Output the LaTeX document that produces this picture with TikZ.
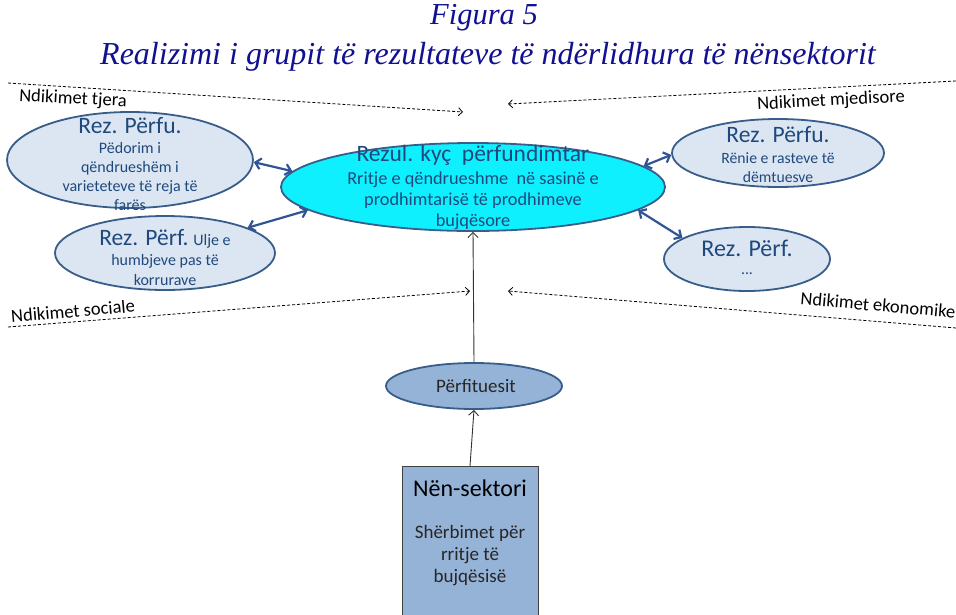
\documentclass[tikz,border=0pt]{standalone}
\usepackage{fontspec}
\setmainfont{Liberation Serif}
\newfontfamily\calfont{Carlito}
\usetikzlibrary{shapes.geometric,arrows.meta}
\definecolor{titleblue}{HTML}{101090}
\definecolor{lightfill}{HTML}{DCE6F2}
\definecolor{edgeblue}{HTML}{385D8A}
\definecolor{cyanfill}{HTML}{0FF0FF}
\definecolor{midblue}{HTML}{95B3D7}
\definecolor{txtblue}{HTML}{1F497D}
\definecolor{arrblue}{HTML}{2F5597}
\tikzset{
  ell/.style={ellipse, draw=edgeblue, line width=1.8pt, inner sep=0pt},
  inell/.style={align=center, text=txtblue, inner sep=0pt},
  dashl/.style={densely dashed, line width=0.8pt, -{Straight Barb[length=4pt,width=8pt]}},
  dbl/.style={arrblue, line width=2.2pt, {Straight Barb[length=5.5pt,width=11pt]}-{Straight Barb[length=5.5pt,width=11pt]}},
  thinarr/.style={line width=0.9pt, black!80, -{Straight Barb[length=5pt,width=10pt]}},
  lbl/.style={font=\calfont\fontsize{18.5}{20}\selectfont, inner sep=0pt},
  ttl/.style={font=\itshape\fontsize{32}{34}\selectfont, text=titleblue, inner sep=0pt}
}
\newcommand{\bigtxt}{\fontsize{23.5}{25}\selectfont}
\begin{document}
\begin{tikzpicture}[x=1pt,y=-1pt]
\useasboundingbox (0,0) rectangle (956,614);
% title
\node[ttl, font=\itshape\fontsize{30.5}{34}\selectfont] (t1) at (484,18) {Figura 5};
\node[ttl] (t2) at (488,57) {Realizimi i grupit të rezultateve të ndërlidhura të nënsektorit};
% dashed influence lines
\coordinate (tlS) at (8,83);   \coordinate (tlE) at (463,112);
\coordinate (trS) at (956,81); \coordinate (trE) at (508,104);
\coordinate (blS) at (8,327);  \coordinate (blE) at (470,291);
\coordinate (brS) at (956,328);\coordinate (brE) at (508,291);
\draw[dashl] (tlS) -- (tlE);
\draw[dashl] (trS) -- (trE);
\draw[dashl] (blS) -- (blE);
\draw[dashl] (brS) -- (brE);
\node[lbl, rotate=-3] (ltj) at (73,99) {Ndikimet tjera};
\node[lbl, rotate=3] (lmj) at (831,101) {Ndikimet mjedisore};
\node[lbl, rotate=5] (lso) at (73,311) {Ndikimet sociale};
\node[lbl, rotate=-5] (lek) at (878,305) {Ndikimet ekonomike};
% ellipses
\node[ell, fill=lightfill, minimum width=246, minimum height=96] (e1) at (130,160) {};
\node[ell, fill=lightfill, minimum width=220, minimum height=74] (e2) at (165,253) {};
\node[ell, fill=cyanfill, minimum width=384, minimum height=88] (ec) at (473,187) {};
\node[ell, fill=lightfill, minimum width=212, minimum height=68] (e3) at (778,153) {};
\node[ell, fill=lightfill, minimum width=166, minimum height=64] (e4) at (747,259) {};
\node[ell, fill=midblue, minimum width=176, minimum height=46] (ep) at (474,386) {};
\node[draw=black!75, line width=1pt, fill=midblue, minimum width=136, minimum height=160, anchor=north, inner sep=0pt] (box) at (470,466) {};
% texts
\node[inell, font=\calfont\bigtxt] (te1a) at (130,126) {Rez. Përfu.};
\node[inell, font=\calfont\fontsize{16}{19}\selectfont] (te1b) at (130,176) {Pëdorim i\\ qëndrueshëm i\\ varieteteve të reja të\\ farës};
\node[inell, font=\calfont\fontsize{16}{20}\selectfont] (te2) at (165,257) {{\bigtxt Rez. Përf.} Ulje e\\ humbjeve pas të\\ korrurave};
\node[inell, font=\calfont\bigtxt] (teca) at (473,155) {Rezul. kyç\ \ përfundimtar};
\node[inell, font=\calfont\fontsize{18.3}{21}\selectfont] (tecb) at (473,201) {Rritje e qëndrueshme\ \ në sasinë e\\ prodhimtarisë të prodhimeve\\ bujqësore};
\node[inell, font=\calfont\bigtxt] (te3a) at (778,135) {Rez. Përfu.};
\node[inell, font=\calfont\fontsize{15.7}{19}\selectfont] (te3b) at (778,168) {Rënie e rasteve të\\ dëmtuesve};
\node[inell, font=\calfont\fontsize{24}{26}\selectfont] (te4a) at (747,248) {Rez. Përf.};
\node[inell, font=\calfont\fontsize{15.7}{19}\selectfont] (te4b) at (747,274) {...};
\node[inell, text=black!85, font=\calfont\fontsize{19}{21}\selectfont] (tp) at (476,386) {Përfituesit};
\node[inell, text=black, font=\calfont\fontsize{24}{26}\selectfont] (tb1) at (470,488) {Nën-sektori};
\node[inell, text=black!85, font=\calfont\fontsize{19}{22}\selectfont] (tb2) at (470,556) {Shërbimet për\\ rritje të\\ bujqësisë};
% connectors
\draw[dbl] (e1.-1) -- (ec.175);
\draw[dbl] (e2.17) -- (ec.188);
\draw[dbl] (ec.7) -- (e3.181);
\draw[dbl] (ec.-8) -- (e4.162);
\draw[thinarr] (ep.north) -- (ec.south);
\draw[thinarr] (box.north) -- (ep.south);
\end{tikzpicture}
\end{document}
